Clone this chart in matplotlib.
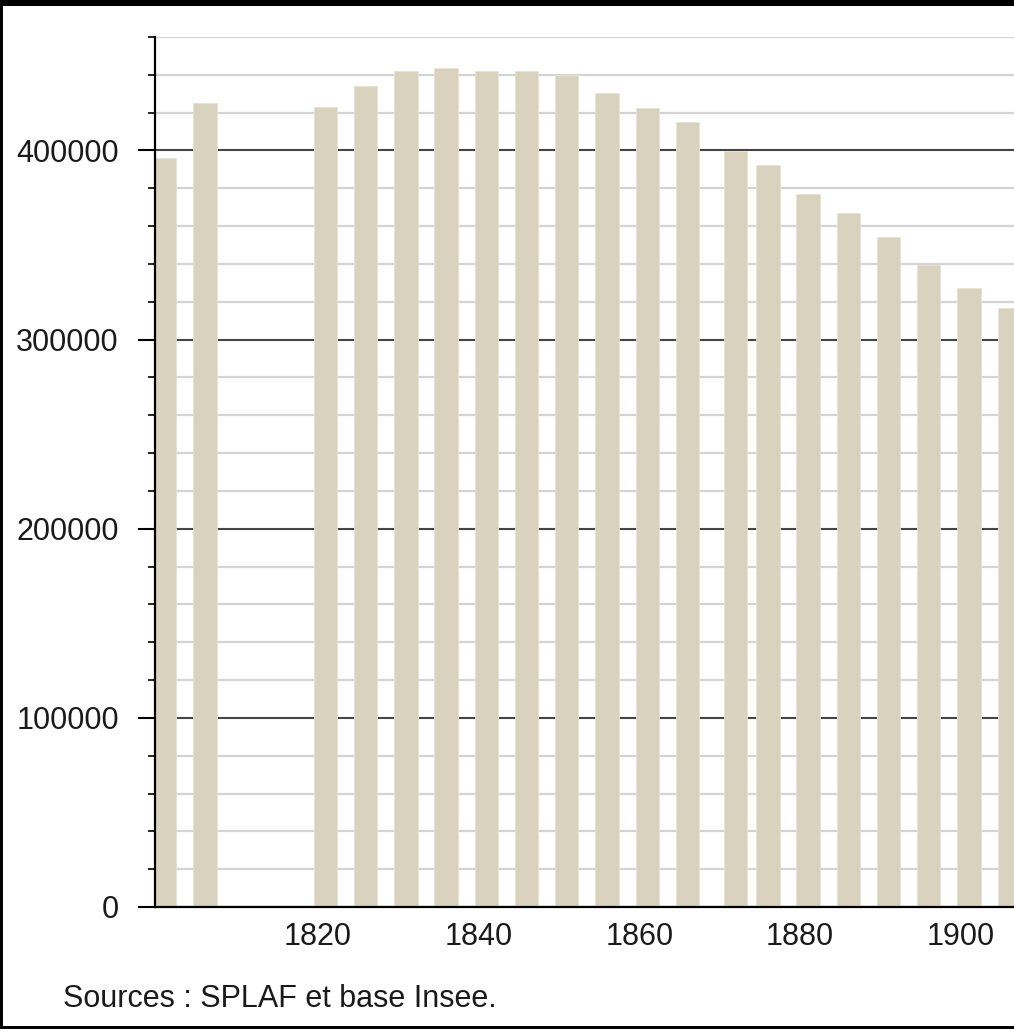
import numpy as np
from matplotlib import pyplot as plt
from matplotlib.ticker import MultipleLocator, FixedLocator
from matplotlib.patches import Rectangle

years = [1801, 1806, 1821, 1826, 1831, 1836, 1841, 1846, 1851, 1856,
         1861, 1866, 1872, 1876, 1881, 1886, 1891, 1896, 1901, 1906]
population = [396000, 425000, 423000, 434000, 442000, 443500, 442000, 442000, 440000, 430500,
              422500, 415000, 399500, 392500, 377000, 367000, 354500, 339500, 327500, 316500]
x_ticks = [1820, 1840, 1860, 1880, 1900]
y_ticks = [0, 100000, 200000, 300000, 400000]
source_text = "Sources : SPLAF et base Insee."

W, H = 1014, 1029
plt.rcParams['font.family'] = ['Liberation Sans', 'DejaVu Sans']

fig = plt.figure(figsize=(W / 100, H / 100), dpi=100, facecolor='black')
# white inner panel, black frame on left, top and bottom
fig.patches.append(Rectangle((3 / W, 3 / H), 1 - 3 / W, (H - 9) / H,
                             transform=fig.transFigure, facecolor='white',
                             edgecolor='none', zorder=-10))

ax = fig.add_axes([155 / W, (H - 907) / H, 1 - 155 / W, (907 - 37) / H])
ax.set_facecolor('none')

ax.bar(years, population, width=2.9, color='#d8d2be', edgecolor='#e6e1d3',
       linewidth=0.6, zorder=3)

ax.set_xlim(1799.8, 1906.6)
ax.set_ylim(0, 460000)

ax.yaxis.set_major_locator(FixedLocator(y_ticks))
ax.yaxis.set_minor_locator(MultipleLocator(20000))
ax.set_yticklabels([str(v) for v in y_ticks])
ax.set_xticks(x_ticks)
ax.set_xticklabels([str(v) for v in x_ticks])

ax.grid(axis='y', which='major', color='#454545', linewidth=1.5, zorder=1)
ax.grid(axis='y', which='minor', color='#d4d4d4', linewidth=1.6, zorder=1)
ax.set_axisbelow(True)

for s in ['top', 'right']:
    ax.spines[s].set_visible(False)
for s in ['left', 'bottom']:
    ax.spines[s].set_linewidth(1.6)
    ax.spines[s].set_color('black')
    ax.spines[s].set_zorder(4)

ax.tick_params(axis='y', which='major', length=12, width=1.5, pad=14,
               labelsize=22, labelcolor='#1a1a1a', color='black')
ax.tick_params(axis='y', which='minor', length=5, width=1.2, color='black')
ax.tick_params(axis='x', which='both', length=0, pad=11, labelsize=22,
               labelcolor='#1a1a1a')

fig.text(63 / W, (H - 1007) / H, source_text, fontsize=22, color='#1a1a1a',
         ha='left', va='baseline')

fig.savefig('out.png', dpi=100, facecolor=fig.get_facecolor())
